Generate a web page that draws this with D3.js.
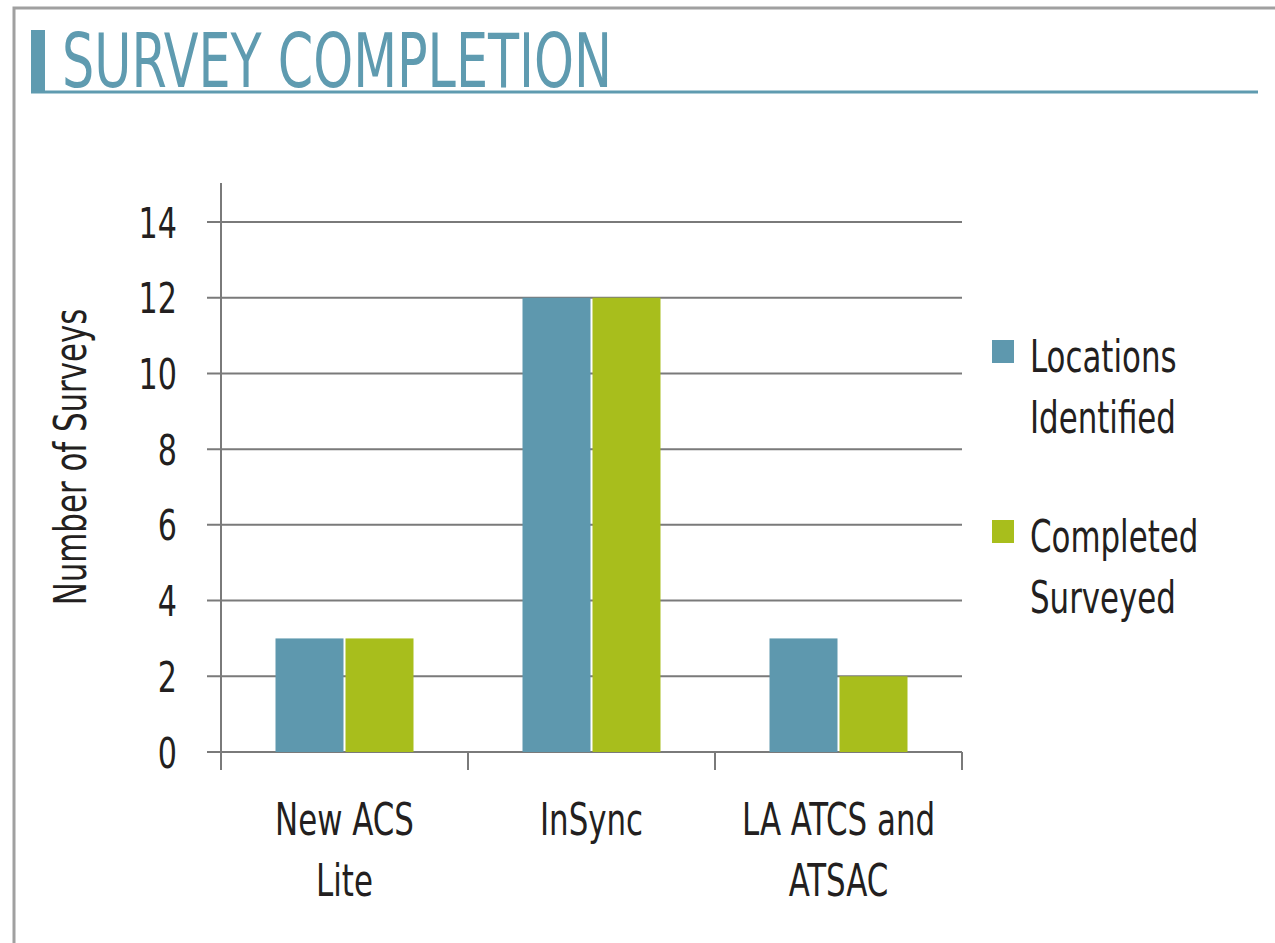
<!DOCTYPE html>
<html>
<head>
<meta charset="utf-8">
<script src="https://cdn.jsdelivr.net/npm/d3@7"></script>
<style>
	body { margin: 0; background: #fff; }
	text { font-family: "DejaVu Sans Condensed", "Liberation Sans Narrow", sans-serif; fill: #231f20; }
</style>
</head>
<body>
<div id="chart"></div>
<script>
var categories = [["New ACS", "Lite"], ["InSync"], ["LA ATCS and", "ATSAC"]];
var seriesNames = [["Locations", "Identified"], ["Completed", "Surveyed"]];
var locations = [3, 12, 3];
var completed = [3, 12, 2];
var yTicks = [0, 2, 4, 6, 8, 10, 12, 14];
var colors = ["#5e98ae", "#a8be1c"];

var W = 1275, H = 943;
var svg = d3.select("#chart").append("svg")
	.attr("width", W)
	.attr("height", H)

// squeezed text, the original face is much narrower
var squeeze = 0.78;
function label(px, py, size, lines, gap, anchor, rot) {
	var g = svg.append("g")
		.attr("transform", "translate(" + px + "," + py + ")" + (rot ? " rotate(" + rot + ")" : "") + " scale(" + squeeze + ",1)")
	var t = g.append("text")
		.attr("text-anchor", anchor || "start")
		.style("font-size", size + "px")
	lines.forEach(function(l, k) {
		t.append("tspan")
			.attr("x", 0)
			.attr("dy", k ? gap : 0)
			.text(l)
	});
	return t;
}

// frame
svg.append("path")
	.attr("d", "M14,945 L14,8 L1280,8")
	.attr("fill", "none")
	.attr("stroke", "#a0a0a0")
	.attr("stroke-width", 3)

// title
svg.append("rect")
	.attr("x", 31).attr("y", 30)
	.attr("width", 14).attr("height", 63)
	.attr("fill", "#5f9bb0")
svg.append("line")
	.attr("x1", 31).attr("x2", 1258)
	.attr("y1", 92).attr("y2", 92)
	.attr("stroke", "#5f9bb0")
	.attr("stroke-width", 3)
svg.append("text")
	.attr("x", 62).attr("y", 87)
	.style("font-size", "75px")
	.style("fill", "#5f9bb0")
	.attr("textLength", 550)
	.attr("lengthAdjust", "spacingAndGlyphs")
	.text("SURVEY COMPLETION")

var left = 221, right = 962, axisTop = 183, bottom = 752;

var x = d3.scaleBand()
	.domain(d3.range(categories.length))
	.range([left, right])

var y = d3.scaleLinear()
	.domain([0, 14])
	.range([bottom, 222])

// grid
svg.append("g").selectAll("line")
	.data(yTicks)
	.enter().append("line")
	.attr("x1", left - 14).attr("x2", right)
	.attr("y1", function(d) { return y(d); })
	.attr("y2", function(d) { return y(d); })
	.attr("stroke", "#7a7a7a")
	.attr("stroke-width", 2)

// y axis
svg.append("line")
	.attr("x1", left).attr("x2", left)
	.attr("y1", axisTop).attr("y2", 770)
	.attr("stroke", "#7a7a7a")
	.attr("stroke-width", 2)

// x ticks at band edges
svg.append("g").selectAll("line")
	.data(x.domain())
	.enter().append("line")
	.attr("x1", function(d) { return x(d) + x.bandwidth(); })
	.attr("x2", function(d) { return x(d) + x.bandwidth(); })
	.attr("y1", bottom).attr("y2", 770)
	.attr("stroke", "#7a7a7a")
	.attr("stroke-width", 2)

yTicks.forEach(function(d) {
	label(177, y(d) + 15.5, 43, [String(d)], 0, "end")
});

label(86, 457, 44, ["Number of Surveys"], 0, "middle", -90)

// bars
var barW = 68, gap = 2;
var series = [locations, completed];
series.forEach(function(vals, s) {
	svg.append("g").selectAll("rect")
		.data(vals)
		.enter().append("rect")
		.attr("x", function(d, i) {
			var c = x(i) + x.bandwidth() / 2;
			return s == 0 ? c - gap / 2 - barW : c + gap / 2;
		})
		.attr("y", function(d) { return y(d); })
		.attr("width", barW)
		.attr("height", function(d) { return bottom - y(d); })
		.attr("fill", colors[s])
});

// category labels
categories.forEach(function(lines, i) {
	label(x(i) + x.bandwidth() / 2, 835, 44, lines, 61, "middle")
});

// legend
seriesNames.forEach(function(lines, s) {
	var y0 = 340 + s * 180;
	svg.append("rect")
		.attr("x", 992).attr("y", y0)
		.attr("width", 22).attr("height", 23)
		.attr("fill", colors[s])
	label(1030, y0 + 32, 44, lines, 61, "start")
});
</script>
</body>
</html>
